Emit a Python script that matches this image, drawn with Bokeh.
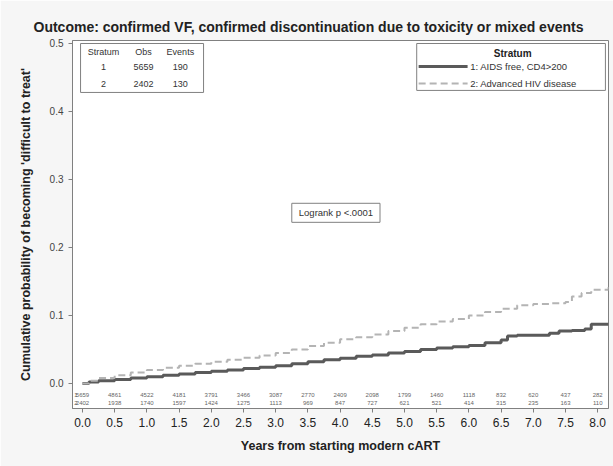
from bokeh.plotting import figure
from bokeh.models import Range1d, NumeralTickFormatter, FixedTicker
from bokeh.core.properties import value
from bokeh.embed import file_html
from bokeh.resources import INLINE

# Kaplan-Meier style cumulative incidence, stratum 1 (AIDS free, CD4>200)
t_s1 = [0, 0.1, 0.25, 0.5, 0.75, 1.0, 1.25, 1.5, 1.75, 2.0, 2.25, 2.5, 2.75, 3.0, 3.25, 3.5,
        3.75, 4.0, 4.25, 4.5, 4.75, 5.0, 5.25, 5.5, 5.75, 6.0, 6.25, 6.5, 6.6, 6.75, 7.0, 7.25,
        7.4, 7.6, 7.8, 7.9, 8.17]
p_s1 = [0, 0.002, 0.004, 0.006, 0.008, 0.010, 0.012, 0.014, 0.016, 0.018, 0.020, 0.022, 0.024,
        0.026, 0.029, 0.032, 0.035, 0.037, 0.040, 0.042, 0.045, 0.047, 0.050, 0.052, 0.054, 0.056,
        0.060, 0.064, 0.070, 0.071, 0.071, 0.074, 0.077, 0.078, 0.080, 0.087, 0.087]

# stratum 2 (Advanced HIV disease)
t_s2 = [0, 0.1, 0.25, 0.5, 0.75, 1.0, 1.25, 1.5, 1.75, 2.0, 2.25, 2.5, 2.75, 3.0, 3.25, 3.5,
        3.75, 4.0, 4.25, 4.5, 4.75, 5.0, 5.25, 5.5, 5.75, 6.0, 6.25, 6.5, 6.75, 7.0, 7.25, 7.5,
        7.6, 7.75, 7.9, 8.17]
p_s2 = [0, 0.004, 0.008, 0.012, 0.016, 0.020, 0.023, 0.026, 0.029, 0.032, 0.035, 0.038, 0.041,
        0.045, 0.050, 0.055, 0.060, 0.065, 0.068, 0.072, 0.077, 0.082, 0.087, 0.091, 0.095, 0.100,
        0.105, 0.110, 0.115, 0.117, 0.118, 0.120, 0.128, 0.133, 0.138, 0.142]

# numbers at risk every half year
risk_times = [0, 0.5, 1.0, 1.5, 2.0, 2.5, 3.0, 3.5, 4.0, 4.5, 5.0, 5.5, 6.0, 6.5, 7.0, 7.5, 8.0]
risk_s1 = [5659, 4861, 4522, 4181, 3791, 3466, 3087, 2770, 2409, 2098, 1799, 1460, 1118, 832, 620, 437, 282]
risk_s2 = [2402, 1938, 1740, 1597, 1424, 1275, 1113, 969, 847, 727, 621, 521, 414, 315, 235, 163, 110]

strata = ["1", "2"]
obs = ["5659", "2402"]
events = ["190", "130"]
legend_labels = ["1: AIDS free, CD4>200", "2: Advanced HIV disease"]

FONT = "Liberation Sans"
C1 = "#5a5a5a"
C2 = "#b4b4b4"

p = figure(width=613, height=466, output_backend="svg", toolbar_location=None,
           x_range=Range1d(-0.155, 8.168), y_range=Range1d(-0.0368, 0.5044),
           min_border_left=72, min_border_right=5, min_border_top=40, min_border_bottom=58)
p.background_fill_color = "white"
p.border_fill_color = "#f6f6f6"
p.outline_line_color = "#808080"
p.outline_line_width = 1
p.grid.visible = False

# chart title
p.title.text = "Outcome: confirmed VF, confirmed discontinuation due to toxicity or mixed events"
p.title.align = "left"
p.title.offset = -39
p.title.vertical_align = "middle"
p.title.text_font = FONT
p.title.text_font_size = "14px"
p.title.text_font_style = "bold"
p.title.text_color = "#222222"

# axes
p.xaxis.ticker = FixedTicker(ticks=[i * 0.5 for i in range(17)])
p.yaxis.ticker = FixedTicker(ticks=[0, 0.1, 0.2, 0.3, 0.4, 0.5])
p.xaxis.formatter = NumeralTickFormatter(format="0.0")
p.yaxis.formatter = NumeralTickFormatter(format="0.0")
for ax in (p.xaxis, p.yaxis):
    ax.axis_line_color = "#808080"
    ax.major_tick_line_color = "#808080"
    ax.minor_tick_line_color = None
    ax.major_tick_in = 0
    ax.major_tick_out = 4
    ax.major_label_text_font = FONT
    ax.axis_label_text_font = FONT
    ax.axis_label_text_font_style = "bold"
    ax.axis_label_text_color = "#222222"
p.xaxis.major_label_text_color = "#222222"
p.yaxis.major_label_text_color = "#444444"
p.xaxis.major_label_text_font_size = "12px"
p.xaxis.major_label_standoff = 5
p.xaxis.axis_label = "Years from starting modern cART"
p.xaxis.axis_label_text_font_size = "12.5px"
p.xaxis.axis_label_standoff = 9
p.yaxis.major_label_text_font_size = "10px"
p.yaxis.major_label_standoff = 5
p.yaxis.axis_label = "Cumulative probability of becoming 'difficult to treat'"
p.yaxis.axis_label_text_font_size = "12.5px"
p.yaxis.axis_label_standoff = 14

# survival-type step curves
p.step(t_s1, p_s1, mode="after", line_color=C1, line_width=3)
p.step(t_s2, p_s2, mode="after", line_color=C2, line_width=2, line_dash="7 4")

# numbers at risk inside the plot, above the axis
p.text(risk_times, [-0.0165] * len(risk_times), text=[str(v) for v in risk_s1],
       text_font=value(FONT), text_font_size="6px", text_color="#666666",
       text_align="center", text_baseline="middle")
p.text(risk_times, [-0.0285] * len(risk_times), text=[str(v) for v in risk_s2],
       text_font=value(FONT), text_font_size="6px", text_color="#666666",
       text_align="center", text_baseline="middle")
p.text([-0.1, -0.1], [-0.0165, -0.0285], text=strata, text_font=value(FONT),
       text_font_size="6px", text_color="#666666", text_align="center", text_baseline="middle")

# stratum summary table
p.quad(left=[-0.03], right=[1.88], bottom=[0.428], top=[0.5], fill_color="white",
       line_color="#808080", line_width=1)
tx = [0.326, 0.947, 1.52]
p.text(tx, [0.487] * 3, text=["Stratum", "Obs", "Events"], text_font=value(FONT),
       text_font_size="9px", text_color="#333333", text_align="center", text_baseline="middle")
p.text([tx[0]] * 2, [0.465, 0.441], text=strata, text_font=value(FONT), text_font_size="9px",
       text_color="#333333", text_align="center", text_baseline="middle")
p.text([tx[1]] * 2, [0.465, 0.441], text=obs, text_font=value(FONT), text_font_size="9px",
       text_color="#333333", text_align="center", text_baseline="middle")
p.text([tx[2]] * 2, [0.465, 0.441], text=events, text_font=value(FONT), text_font_size="9px",
       text_color="#333333", text_align="center", text_baseline="middle")

# legend box
p.quad(left=[5.19], right=[8.12], bottom=[0.431], top=[0.5], fill_color="white",
       line_color="#808080", line_width=1)
p.text([6.68], [0.485], text=["Stratum"], text_font=value(FONT), text_font_size="10px",
       text_font_style="bold", text_color="#222222", text_align="center", text_baseline="middle")
p.segment(x0=[5.22], x1=[5.98], y0=[0.466], y1=[0.466], line_color=C1, line_width=3)
p.segment(x0=[5.22], x1=[5.98], y0=[0.441], y1=[0.441], line_color=C2, line_width=2,
          line_dash="7 4")
p.text([6.02, 6.02], [0.466, 0.441], text=legend_labels, text_font=value(FONT),
       text_font_size="9.5px", text_color="#333333", text_align="left", text_baseline="middle")

# log-rank test annotation
p.quad(left=[3.25], right=[4.62], bottom=[0.237], top=[0.265], fill_color="white",
       line_color="#808080", line_width=1)
p.text([3.935], [0.251], text=["Logrank p <.0001"], text_font=value(FONT), text_font_size="9.5px",
       text_color="#333333", text_align="center", text_baseline="middle")

open("out.html", "w").write(file_html(p, INLINE))
